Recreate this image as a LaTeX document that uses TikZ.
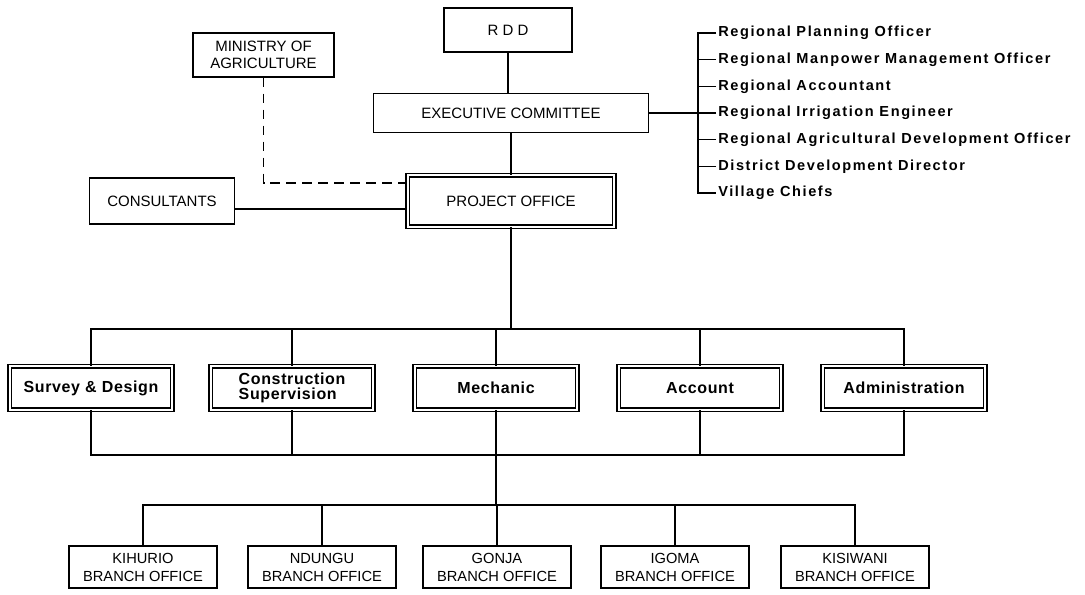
\documentclass[tikz,border=0pt]{standalone}
\usepackage{fontspec}
\setmainfont{Liberation Sans}
\newfontfamily\listfont[LetterSpace=11]{Liberation Sans}
\newfontfamily\unitfont[LetterSpace=4]{Liberation Sans}
\usepackage{tikz}
\usetikzlibrary{calc}

\tikzset{
  plainbox/.style={draw, line width=1.1pt, minimum height=33pt, align=center, inner sep=2pt, font=\fontsize{11.25}{12.5}\selectfont},
  dblbox/.style={draw, double, double distance=1.6pt, line width=0.95pt, align=center, inner sep=2pt},
  unitbox/.style={dblbox, minimum width=122pt, minimum height=32.6pt, font=\unitfont\bfseries\fontsize{12}{11.5}\selectfont},
  branchbox/.style={plainbox, minimum width=111pt, minimum height=31.5pt, font=\fontsize{11}{13.5}\selectfont},
  listitem/.style={anchor=west, inner sep=1.5pt, font=\listfont\bfseries\fontsize{10.9}{12}\selectfont},
  link/.style={line width=1.3pt},
  thinlink/.style={line width=0.8pt},
}

\begin{document}
\begin{tikzpicture}[x=0.75pt,y=0.75pt,yscale=-1,xscale=1]
\useasboundingbox (0,0) rectangle (1085,594);

% Text Node
\node (rdd) at (508,30) [plainbox, minimum width=96pt] {R D D};
% Text Node
\node (ministry) at (263.5,55) [plainbox, minimum width=105.75pt] {MINISTRY OF\\AGRICULTURE};
% Text Node
\node (exec) at (511,113) [plainbox, minimum width=206pt, minimum height=29.25pt] {EXECUTIVE COMMITTEE};
% Text Node
\node (po) at (511,201) [dblbox, minimum width=155pt, minimum height=38.6pt, font=\fontsize{11.25}{12.5}\selectfont] {PROJECT OFFICE};
% Text Node
\node (consultants) at (162,201) [plainbox, minimum width=108.75pt, minimum height=34.5pt] {CONSULTANTS};

% Text Node
\node (survey) at (91,388) [unitbox] {Survey \& Design};
% Text Node
\node (constr) at (292,388) [unitbox, align=left] {Construction\\Supervision};
% Text Node
\node (mech) at (496,388) [unitbox] {Mechanic};
% Text Node
\node (account) at (700,388) [unitbox] {Account};
% Text Node
\node (admin) at (904,388) [unitbox] {Administration};

% Text Node
\node (kihurio) at (143,567) [branchbox] {KIHURIO\\BRANCH OFFICE};
% Text Node
\node (ndungu) at (322,567) [branchbox] {NDUNGU\\BRANCH OFFICE};
% Text Node
\node (gonja) at (497,567) [branchbox] {GONJA\\BRANCH OFFICE};
% Text Node
\node (igoma) at (675,567) [branchbox] {IGOMA\\BRANCH OFFICE};
% Text Node
\node (kisiwani) at (855,567) [branchbox] {KISIWANI\\BRANCH OFFICE};

% Text Node
\foreach \txt [count=\i] in {Regional Planning Officer, Regional Manpower Management Officer, Regional Accountant, Regional Irrigation Engineer, Regional Agricultural Development Officer, District Development Director, Village Chiefs}
  \node (item\i) at (716,{33+26.67*(\i-1)}) [listitem] {\txt};

\coordinate (brk) at (698,113);
\coordinate (bus1) at (511,329);
\coordinate (bus2) at (496,455);
\coordinate (bus3) at (496,505);

%Straight Lines
\draw [link] (rdd.south) -- (rdd.south |- exec.north);
\draw [link] (exec.south) -- (po.north);
\draw [link] ([yshift=6pt]consultants.east) -- ([yshift=6pt]po.west);
\draw [link, dash pattern=on 7pt off 5pt] (ministry.south) |- ([yshift=-13.5pt]po.west);

%Straight Lines
\draw [thinlink] (exec.east) -- (exec.east -| brk);
\draw [link] (item1.west) -- (item1.west -| brk) -- (item7.west -| brk) -- (item7.west);
\foreach \i in {2,...,6}
  \draw [thinlink] (item\i.west) -- (item\i.west -| brk);

%Straight Lines
\draw [link] (po.south) -- (bus1);
\draw [link] (survey.north) -- (survey.north |- bus1) -- (admin.north |- bus1) -- (admin.north);
\foreach \n in {constr,mech,account}
  \draw [link] (\n.north) -- (\n.north |- bus1);

%Straight Lines
\draw [link] (survey.south) -- (survey.south |- bus2) -- (admin.south |- bus2) -- (admin.south);
\foreach \n in {constr,mech,account}
  \draw [link] (\n.south) -- (\n.south |- bus2);
\draw [link] (bus2) -- (bus3);

%Straight Lines
\draw [link] (kihurio.north) -- (kihurio.north |- bus3) -- (kisiwani.north |- bus3) -- (kisiwani.north);
\foreach \n in {ndungu,gonja,igoma}
  \draw [link] (\n.north) -- (\n.north |- bus3);

\end{tikzpicture}
\end{document}
